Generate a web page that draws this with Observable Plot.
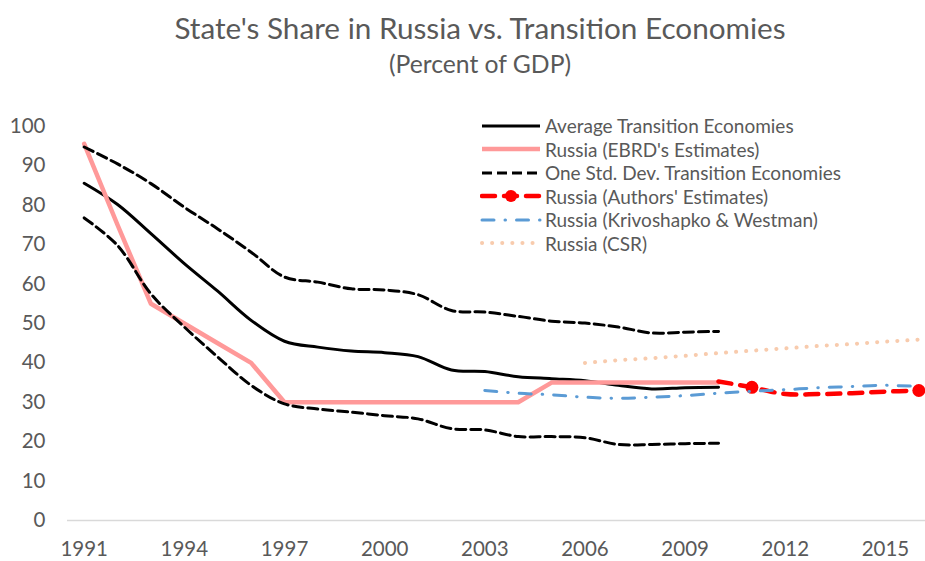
<!DOCTYPE html>
<html>
<head>
<meta charset="utf-8">
<script src="https://cdn.jsdelivr.net/npm/d3@7"></script>
<script src="https://cdn.jsdelivr.net/npm/@observablehq/plot@0.6"></script>
<style>
  body { margin: 0; background: #fff; font-family: Lato, "Open Sans", sans-serif; color: #595959; }
  #wrap { position: relative; width: 925px; height: 561px; overflow: hidden; }
  #header { position: relative; height: 96px; }
  #title { position: absolute; top: 9px; left: 35px; width: 890px; text-align: center; font-size: 29.7px; line-height: 38px; }
  #subtitle { position: absolute; top: 49px; left: 35px; width: 890px; text-align: center; font-size: 24.7px; line-height: 30px; }
  #legend { position: absolute; left: 480px; top: 114px; font-size: 19px; }
  .row { display: flex; align-items: center; height: 23.5px; white-space: nowrap; }
  .row svg { margin-right: 3px; }
</style>
</head>
<body>
<div id="wrap">
  <div id="header">
    <div id="title">State's Share in Russia vs. Transition Economies</div>
    <div id="subtitle">(Percent of GDP)</div>
  </div>
  <div id="chart"></div>
  <div id="legend"></div>
</div>
<script>
// ---- data ----
const yearsMain = [1991,1992,1993,1994,1995,1996,1997,1998,1999,2000,2001,2002,2003,2004,2005,2006,2007,2008,2009,2010];
const avgTransition = [85.6,80.2,72.8,65.2,58.2,50.8,45.5,44.0,43.0,42.6,41.6,38.2,37.8,36.5,36.0,35.5,34.3,33.4,33.7,33.8];
const stdUpper = [94.8,90.5,85.5,79.5,74.0,68.1,61.8,60.5,58.8,58.5,57.3,53.3,52.9,51.8,50.6,50.1,49.1,47.6,47.8,48.0];
const stdLower = [76.8,69.8,57.5,49.1,41.5,34.3,29.6,28.3,27.5,26.6,25.8,23.3,23.0,21.3,21.3,21.0,19.3,19.3,19.5,19.6];
const russiaEBRD = [95.6,75,55,50,45,40,30,30,30,30,30,30,30,30,35,35,35,35,35,35];

const yearsAuthors = [2010,2011,2012,2013,2014,2015,2016];
const russiaAuthors = [35.3,33.8,32.1,32.1,32.3,32.7,33.0];
const authorsMarkerYears = [2011,2016];

const yearsKW = [2003,2004,2005,2006,2007,2008,2009,2010,2011,2012,2013,2014,2015,2016];
const russiaKW = [33.0,32.3,31.9,31.3,31.0,31.3,31.7,32.3,32.8,33.2,33.7,34.0,34.3,34.0];

const yearsCSR = [2006,2007,2008,2009,2010,2011,2012,2013,2014,2015,2016];
const russiaCSR = [40.0,40.7,41.2,41.8,42.5,43.1,43.7,44.3,44.8,45.4,45.9];

const xTicks = [1991,1994,1997,2000,2003,2006,2009,2012,2015];
const yTicks = [0,10,20,30,40,50,60,70,80,90,100];

const seriesNames = [
  "Average Transition Economies",
  "Russia (EBRD's Estimates)",
  "One Std. Dev. Transition Economies",
  "Russia (Authors' Estimates)",
  "Russia (Krivoshapko & Westman)",
  "Russia (CSR)"
];

// ---- tables ----
const tbl = (years, vals) => years.map((y, i) => ({year: y, value: vals[i]}));
const avgData = tbl(yearsMain, avgTransition);
const upData = tbl(yearsMain, stdUpper);
const loData = tbl(yearsMain, stdLower);
const ebrdData = tbl(yearsMain, russiaEBRD);
const authData = tbl(yearsAuthors, russiaAuthors);
const authMarkers = authData.filter(d => authorsMarkerYears.includes(d.year));
const kwData = tbl(yearsKW, russiaKW);
const csrData = tbl(yearsCSR, russiaCSR);

const styles = {
  avg: {stroke: "#000000", strokeWidth: 3},
  ebrd: {stroke: "#FF9999", strokeWidth: 4.5},
  std: {stroke: "#000000", strokeWidth: 3, strokeDasharray: "10,5"},
  auth: {stroke: "#FF0000", strokeWidth: 4.5, strokeDasharray: "13,9", strokeLinecap: "round"},
  kw: {stroke: "#5B9BD5", strokeWidth: 3, strokeDasharray: "12,11,0.5,11", strokeLinecap: "round"},
  csr: {stroke: "#F8CBAD", strokeWidth: 4, strokeDasharray: "0.1,10", strokeLinecap: "round"}
};

const chart = Plot.plot({
  width: 925,
  height: 465,
  marginLeft: 67,
  marginRight: 0,
  marginTop: 30,
  marginBottom: 41,
  style: {fontFamily: "Lato, 'Open Sans', sans-serif", fontSize: "20.5px", color: "#595959", background: "white", overflow: "visible"},
  x: {domain: [1990.5, 2016.2], ticks: xTicks, tickFormat: d => String(d), tickSize: 0, tickPadding: 21, label: null},
  y: {domain: [0, 100], ticks: yTicks, tickSize: 0, tickPadding: 22, label: null},
  marks: [
    Plot.ruleY([0], {stroke: "#D9D9D9", strokeWidth: 1.5}),
    Plot.line(avgData, {x: "year", y: "value", curve: "catmull-rom", ...styles.avg}),
    Plot.line(ebrdData, {x: "year", y: "value", curve: "linear", ...styles.ebrd}),
    Plot.line(upData, {x: "year", y: "value", curve: "catmull-rom", ...styles.std}),
    Plot.line(loData, {x: "year", y: "value", curve: "catmull-rom", ...styles.std}),
    Plot.line(authData, {x: "year", y: "value", curve: "catmull-rom", ...styles.auth}),
    Plot.dot(authMarkers, {x: "year", y: "value", r: 6.5, fill: "#FF0000", stroke: "none"}),
    Plot.line(kwData, {x: "year", y: "value", curve: "catmull-rom", ...styles.kw}),
    Plot.line(csrData, {x: "year", y: "value", curve: "linear", ...styles.csr})
  ]
});
document.getElementById("chart").appendChild(chart);

// ---- legend ----
const legendStyles = [styles.avg, styles.ebrd, styles.std, styles.auth, styles.kw, styles.csr];
const legend = d3.select("#legend");
seriesNames.forEach((name, i) => {
  const row = legend.append("div").attr("class", "row");
  const svg = row.append("svg").attr("width", 62).attr("height", 14);
  const s = legendStyles[i];
  svg.append("line")
    .attr("x1", 2).attr("x2", 60).attr("y1", 7).attr("y2", 7)
    .attr("stroke", s.stroke).attr("stroke-width", s.strokeWidth)
    .attr("stroke-dasharray", s.strokeDasharray || null)
    .attr("stroke-linecap", s.strokeLinecap || null);
  if (i === 3) svg.append("circle").attr("cx", 31).attr("cy", 7).attr("r", 6).attr("fill", "#FF0000");
  row.append("span").text(name);
});
</script>
</body>
</html>
